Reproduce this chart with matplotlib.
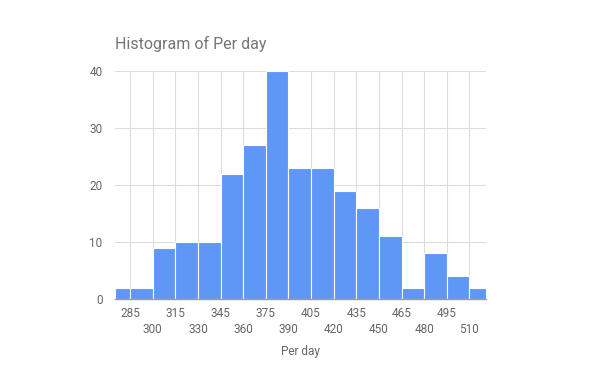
import matplotlib
matplotlib.use("Agg")
import matplotlib.pyplot as plt
import numpy as np

plt.rcParams['font.family'] = ['Roboto', 'DejaVu Sans']

bin_edges = [275, 285, 300, 315, 330, 345, 360, 375, 390, 405, 420, 435, 450, 465, 480, 495, 510, 521]
counts = [2, 2, 9, 10, 10, 22, 27, 40, 23, 23, 19, 16, 11, 2, 8, 4, 2]
x_ticks = [285, 300, 315, 330, 345, 360, 375, 390, 405, 420, 435, 450, 465, 480, 495, 510]
y_ticks = [0, 10, 20, 30, 40]
title = "Histogram of Per day"
x_label = "Per day"

label_color = '#666666'
fs = 8.5

fig = plt.figure(figsize=(6, 3.71), dpi=100)
ax = fig.add_axes([115/600, 1-299/371, (486-115)/600, (299-71)/371])

edges = np.array(bin_edges, dtype=float)
widths = np.diff(edges)
ax.bar(edges[:-1], counts, width=widths, align='edge', color='#5E97F6',
       edgecolor='white', linewidth=0.8, zorder=3)

ax.set_xlim(edges[0], edges[-1])
ax.set_ylim(0, 40)
ax.set_yticks(y_ticks)
ax.set_xticks(x_ticks)
ax.set_xticklabels([])
for i, t in enumerate(x_ticks):
    off = 0 if i % 2 == 0 else 16
    ax.annotate(str(t), xy=(t, 0), xycoords=('data', 'axes fraction'),
                xytext=(0, -8 - off), textcoords='offset pixels',
                ha='center', va='top', fontsize=fs, color=label_color)

ax.grid(True, color='#dddddd', linewidth=0.8, zorder=0)
ax.tick_params(axis='both', length=0, labelsize=fs, colors=label_color)
ax.tick_params(axis='y', pad=9)
for s in ['top', 'right', 'left']:
    ax.spines[s].set_visible(False)
ax.spines['bottom'].set_color('#999999')
ax.spines['bottom'].set_linewidth(1)
ax.spines['bottom'].set_zorder(4)

fig.text(115/600, 1-44/371, title, fontsize=11.5, color='#757575', ha='left', va='center')
fig.text(300/600, 1-352/371, x_label, fontsize=fs, color=label_color, ha='center', va='center')

fig.savefig('out.png', dpi=100)
